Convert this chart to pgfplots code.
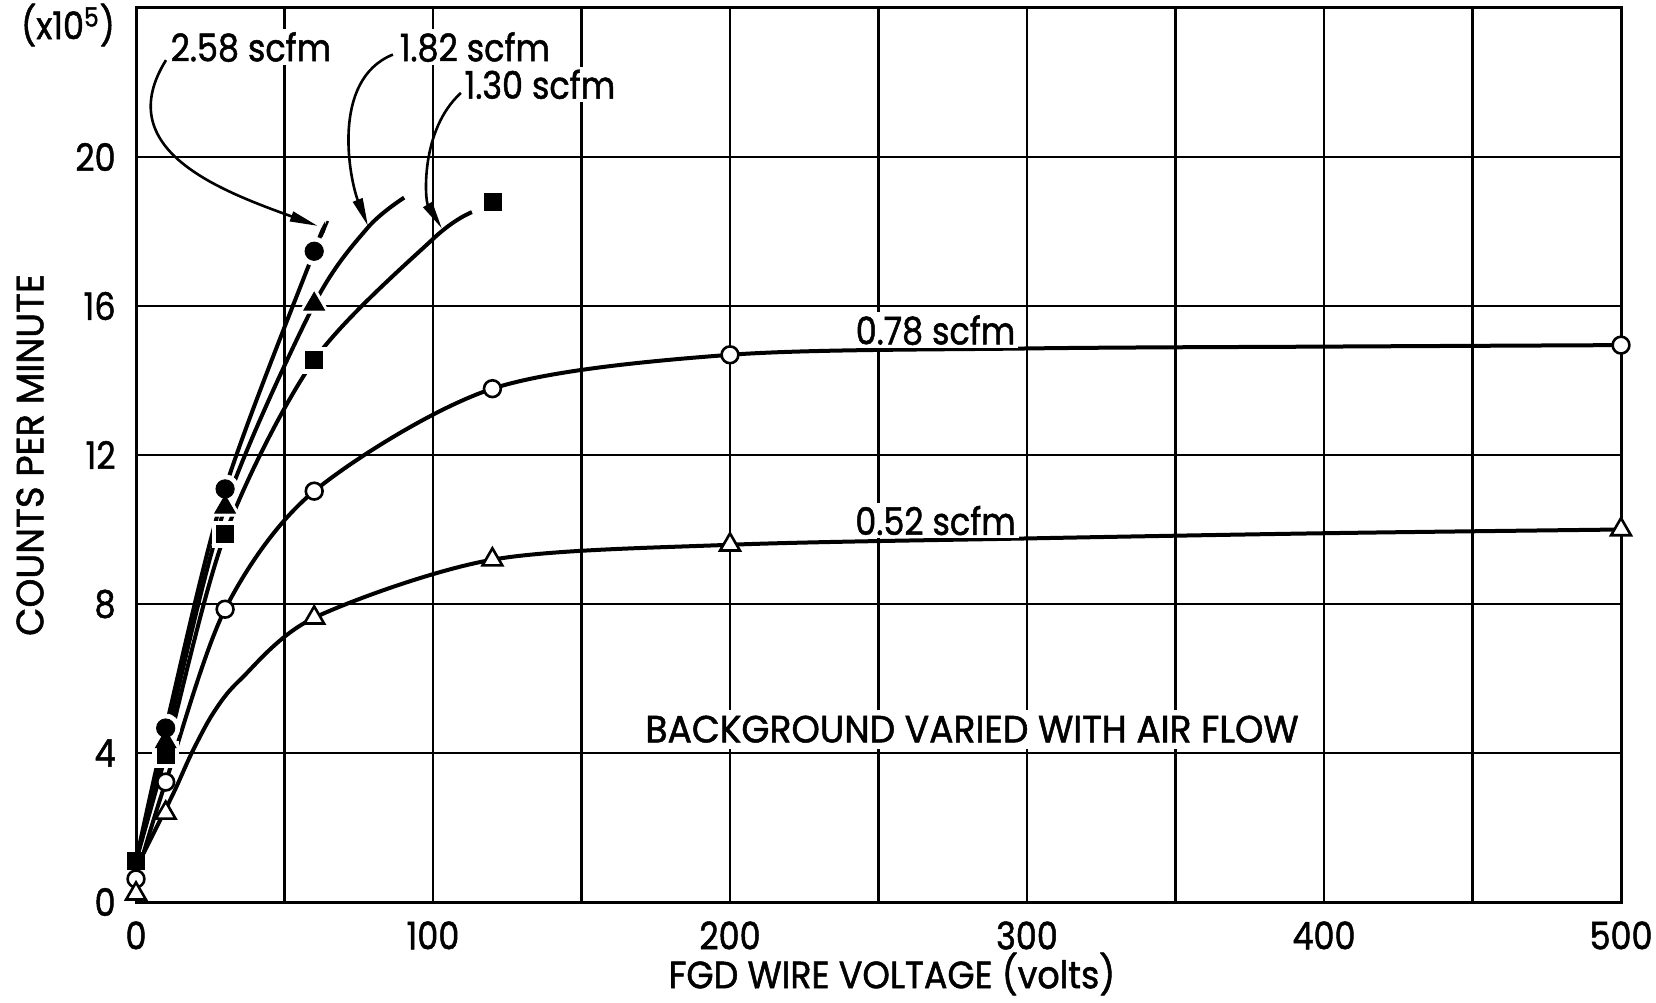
\documentclass[border=0pt]{standalone}
\usepackage{fontspec}
\setmainfont[FakeStretch=0.88, FakeBold=1.3]{Poppins}
\usepackage{graphicx}
\usepackage{pgfplots}
\pgfplotsset{compat=1.18}
\usepackage{pgfplotstable}
\usetikzlibrary{arrows.meta}

% measured points (voltage, counts per minute x 10^5)
\pgfplotstableread{
x y
10 4.67
30 11.09
60 17.47
}\ptsA  % 2.58 scfm
\pgfplotstableread{
x y
10 4.30
30 10.60
60 16.05
}\ptsB  % 1.82 scfm
\pgfplotstableread{
x y
0 1.10
10 3.95
30 9.87
60 14.55
120 18.80
}\ptsC  % 1.30 scfm
\pgfplotstableread{
x y
0 0.62
10 3.22
30 7.86
60 11.03
120 13.78
200 14.69
500 14.95
}\ptsD  % 0.78 scfm
\pgfplotstableread{
x y
0 0.22
10 2.39
60 7.63
120 9.19
200 9.59
500 10.00
}\ptsE  % 0.52 scfm

% faired curves through the points
\pgfplotstableread{
x y
0 1.10
10 4.67
30 11.09
60 17.47
62.8 17.98
}\curveA
\pgfplotstableread{
x y
0 1.10
10 4.30
30 10.60
60 16.05
78 18.10
90.3 18.91
}\curveB
\pgfplotstableread{
x y
0 1.10
10 3.95
30 9.87
60 14.55
100 17.80
113.1 18.52
}\curveC
\pgfplotstableread{
x y
2.5 1.30
10 3.22
30 7.86
60 11.03
120 13.78
200 14.69
300 14.86
400 14.91
500 14.95
}\curveD
\pgfplotstableread{
x y
2.5 1.30
12.6 2.92
18.7 3.99
26 5.07
35 5.96
60 7.63
120 9.19
200 9.59
300 9.76
400 9.90
500 10.00
}\curveE

\newcommand\lbl{\fontsize{19}{22}\selectfont}

\begin{document}
\begin{tikzpicture}
\begin{axis}[
  scale only axis,
  width=742.5pt, height=447pt,
  xmin=0, xmax=500, ymin=0, ymax=24,
  clip=false,
  xtick={0,50,...,500},
  xticklabels={0,,100,,200,,300,,400,,500},
  ytick={0,4,...,24},
  yticklabels={0,4,8,12,16,20,},
  grid=major,
  major grid style={black, line width=1.2pt},
  axis line style={line width=1.5pt},
  major tick length=0pt,
  tick label style={font=\lbl},
  xticklabel style={anchor=north, inner sep=0pt, yshift=-9.5pt},
  yticklabel style={anchor=east, inner sep=0pt, xshift=-10pt},
  /pgf/number format/assume math mode=true,
]
% curves
\addplot[black, line width=2pt, smooth] table {\curveA};
\addplot[black, line width=2pt, smooth] table {\curveB};
\addplot[black, line width=2pt, smooth] table {\curveC};
\addplot[black, line width=2pt, smooth] table {\curveD};
\addplot[black, line width=2pt, smooth] table {\curveE};

% white clearance round the solid symbols
\addplot[only marks, white, mark=*, mark size=7pt, restrict x to domain=1:600] table {\ptsA};
\addplot[only marks, white, mark=triangle*, mark size=9pt, restrict x to domain=1:600] table {\ptsB};
\addplot[only marks, white, mark=square*, mark size=6.5pt, restrict x to domain=1:600] table {\ptsC};

% symbols
\addplot[only marks, black, mark=*, mark size=4.6pt] table {\ptsA};
\addplot[only marks, black, mark=triangle*, mark size=6pt] table {\ptsB};
\addplot[only marks, black, mark=square*, mark size=4.25pt] table {\ptsC};
\addplot[only marks, mark=*, mark size=4.2pt,
  mark options={fill=white, draw=black, line width=1.3pt}] table {\ptsD};
\addplot[only marks, mark=triangle*, mark size=5.7pt,
  mark options={fill=white, draw=black, line width=1.3pt}] table {\ptsE};

% end bar on the 2.58 scfm curve
\draw[line width=1.2pt] (axis cs:64.6,18.28) -- (axis cs:62.4,17.86);

% curve labels
\node[font=\lbl, fill=white, inner sep=1.5pt] at (axis cs:38.7,22.95) {2.58 scfm};
\node[font=\lbl, fill=white, inner sep=1.5pt] at (axis cs:114.1,22.95) {1.82 scfm};
\node[font=\lbl, fill=white, inner sep=1.5pt] at (axis cs:136,21.95) {1.30 scfm};
\node[font=\lbl, fill=white, inner sep=1.5pt] at (axis cs:269.2,15.35) {0.78 scfm};
\node[font=\lbl, fill=white, inner sep=1.5pt] at (axis cs:269.2,10.24) {0.52 scfm};
\node[font=\lbl, fill=white, inner sep=3pt] at (axis cs:281.5,4.64)
  {\scalebox{1.08}[1]{BACKGROUND VARIED WITH AIR FLOW}};

% leader arrows
\draw[line width=1.3pt, -{Triangle[length=14pt,width=5pt]}]
  (axis cs:10.1,22.6) .. controls (axis cs:-8.7,20.2) and (axis cs:28.3,19.1) .. (axis cs:61.2,18.15);
\draw[line width=1.3pt, -{Triangle[length=14pt,width=5pt]}]
  (axis cs:86.5,22.75) .. controls (axis cs:65.3,22.07) and (axis cs:72,19.38) .. (axis cs:78.1,18.15);
\draw[line width=1.3pt, -{Triangle[length=14pt,width=5pt]}]
  (axis cs:109.4,21.72) .. controls (axis cs:95.6,20.72) and (axis cs:97.3,18.84) .. (axis cs:103,18.08);

\coordinate (sw) at (rel axis cs:0,0);
\coordinate (ne) at (rel axis cs:1,1);
\coordinate (tl) at (rel axis cs:0,1);
\coordinate (yl) at (rel axis cs:0,0.5);
\coordinate (xl) at (rel axis cs:0.5,0);
\end{axis}
\node[font=\lbl] at ([xshift=-34pt, yshift=-8.5pt]tl) {(x10\textsuperscript{5})};
\node[font=\lbl, rotate=90] at ([xshift=-53pt]yl) {\scalebox{1.1}[1]{COUNTS PER MINUTE}};
\node[font=\lbl] at ([xshift=6.75pt, yshift=-36pt]xl) {\scalebox{1.045}[1]{FGD WIRE VOLTAGE (volts)}};
\pgfresetboundingbox
\path ([xshift=-68pt, yshift=-50pt]sw) rectangle ([xshift=17.5pt, yshift=4pt]ne);
\end{tikzpicture}
\end{document}
